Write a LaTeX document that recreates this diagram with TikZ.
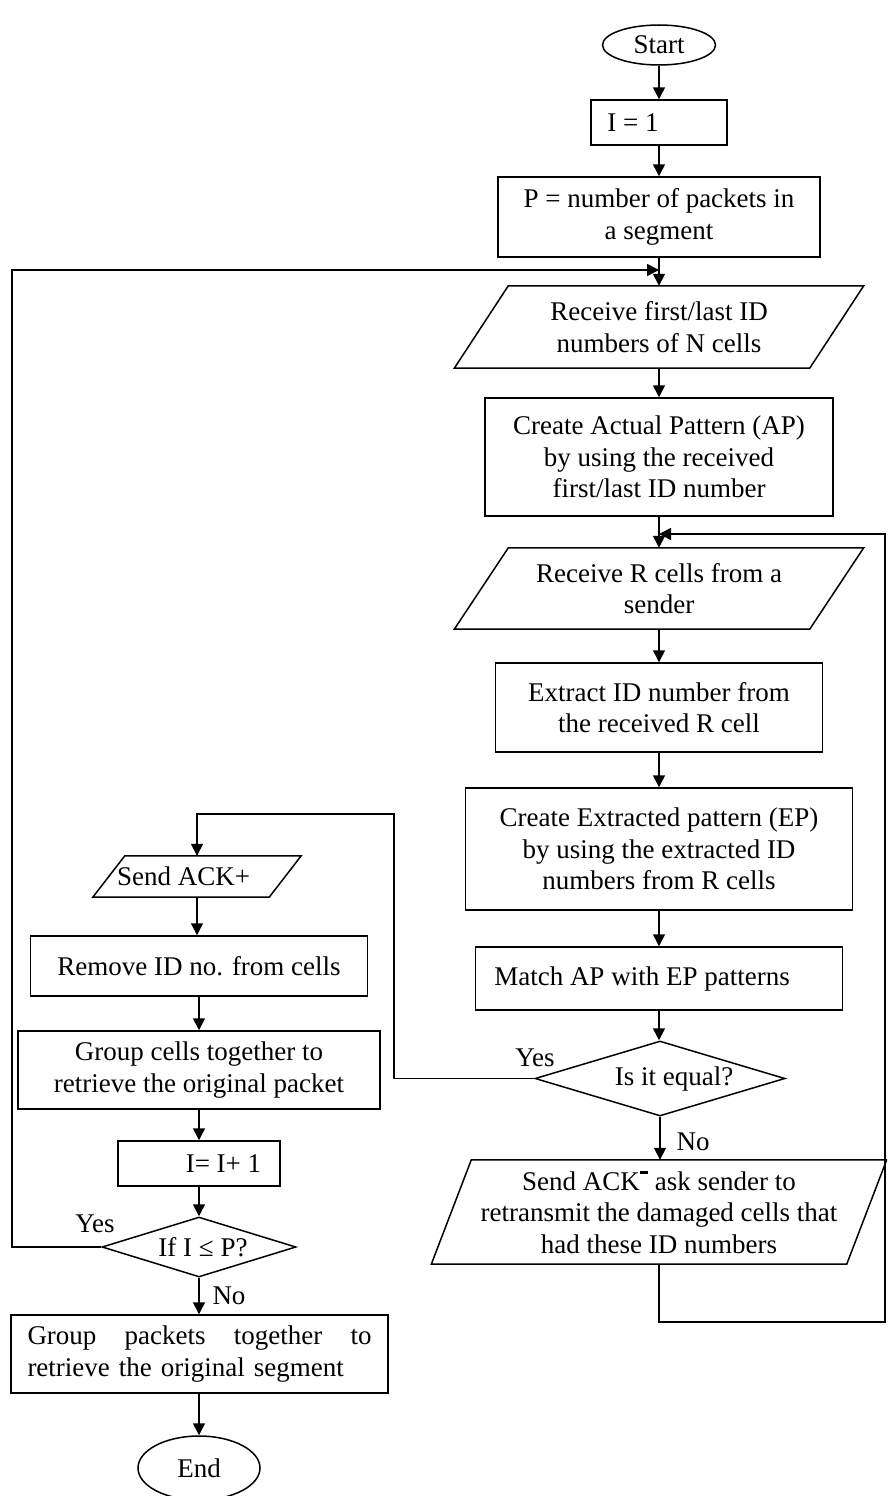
\documentclass[tikz,border=0pt]{standalone}
\usepackage{fontspec}
\setmainfont{Liberation Serif}
\usetikzlibrary{shapes.geometric,arrows.meta}
\newcommand{\drawpara}[2]{\draw[ln] ([xshift=#2]#1.north west) -- ([xshift=#2]#1.north east) -- ([xshift=-#2]#1.south east) -- ([xshift=-#2]#1.south west) -- cycle;}
\tikzset{
  txt/.style={font=\fontsize{27}{31.5}\selectfont, inner sep=0pt, align=center},
  proc/.style={txt, rectangle, draw, line width=1.5pt},
  term/.style={txt, ellipse, draw, line width=1.5pt},
  dec/.style={txt, diamond, draw, line width=1.5pt},
  io/.style={txt, rectangle},
  ln/.style={line width=1.5pt, line join=miter},
  arr/.style={ln, -{Triangle[length=12pt,width=12pt]}},
  lbl/.style={font=\fontsize{27}{31.5}\selectfont, inner sep=0pt}
}
\begin{document}
\begin{tikzpicture}[x=1pt,y=-1pt]
\useasboundingbox (0,0) rectangle (887,1496);
\clip (0,0) rectangle (887,1496);
% right column
\node[term, minimum width=113, minimum height=40] (start) at (659,45) {Start};
\node[proc, minimum width=136, minimum height=45] (i1) at (659,122.5) {I = 1\hspace*{52pt}};
\node[proc, minimum width=322, minimum height=80] (pbox) at (659,217) {P = number of packets in\\a segment};
\node[io, minimum width=355, minimum height=82] (para1) at (659,327) {Receive first/last ID\\numbers of N cells};
\drawpara{para1}{27pt}
\node[proc, minimum width=348, minimum height=118] (ap) at (659,457) {Create Actual Pattern (AP)\\by using the received\\first/last ID number};
\node[io, minimum width=355, minimum height=81] (para2) at (659,588.5) {Receive R cells from a\\sender};
\drawpara{para2}{27pt}
\node[proc, minimum width=327, minimum height=89] (ext) at (659,707.5) {Extract ID number from\\the received R cell};
\node[proc, minimum width=387, minimum height=122] (ep) at (659,849) {Create Extracted pattern (EP)\\by using the extracted ID\\numbers from R cells};
\node[proc, minimum width=367, minimum height=63] (match) at (659,978.5) {Match AP with EP patterns\hspace*{34pt}};
\node[dec, aspect=3.3, minimum width=250, minimum height=75] (eqd) at (660,1078.5) {\hspace*{28pt}Is it equal?};
\node[io, minimum width=415, minimum height=104] (ackm) at (659,1212) {Send ACK\raisebox{0.6em}{\rule{0.3em}{0.12em}} ask sender to\\retransmit the damaged cells that\\had these ID numbers};
\drawpara{ackm}{20pt}
% left column
\node[io, minimum width=176, minimum height=41] (ackp) at (197,876.5) {Send ACK+\hspace*{27pt}};
\drawpara{ackp}{16pt}
\node[proc, minimum width=337, minimum height=60] (remove) at (199,966) {Remove ID no. from cells};
\node[proc, minimum width=362, minimum height=78] (gcells) at (199,1070) {Group cells together to\\retrieve the original packet};
\node[proc, minimum width=162, minimum height=45] (inc) at (199,1163.5) {\hspace*{49pt}I= I+ 1};
\node[dec, aspect=3.2, minimum width=194, minimum height=60] (ifd) at (199,1247) {\hspace*{8pt}If I ≤ P?};
\node[proc, minimum width=377, minimum height=78, text width=344, align=left] (gseg) at (199.5,1354) {\hbox to 344pt{Group\hfil packets\hfil together\hfil to}\\retrieve the original segment};
\node[term, minimum width=122, minimum height=64] (end) at (199,1468) {End};
% labels
\node[lbl] (yes1) at (535,1058) {Yes};
\node[lbl] (no1) at (693,1142) {No};
\node[lbl] (yes2) at (95,1224) {Yes};
\node[lbl] (no2) at (229,1296) {No};
% helper coordinates
\coordinate (m1) at (659,270);
\coordinate (lc) at (12,270);
\coordinate (m2) at (659,534);
\coordinate (rb) at (885,1322);
\coordinate (yc) at (394,814);
% connectors right
\draw[arr] (start) -- (i1);
\draw[arr] (i1) -- (pbox);
\draw[arr] (pbox) -- (para1);
\draw[arr] (para1) -- (ap);
\draw[arr] (ap) -- (para2);
\draw[arr] (para2) -- (ext);
\draw[arr] (ext) -- (ep);
\draw[arr] (ep) -- (match);
\draw[arr] (match.south) -- (match.south |- eqd.north);
\draw[arr] (eqd.south) -- (eqd.south |- ackm.north);
\draw[arr] (ackm.south) |- (rb) |- (m2);
% yes branch
\draw[arr] (eqd.west) -| (yc) -| (ackp.north);
% connectors left
\draw[arr] (ackp.south) -- (ackp.south |- remove.north);
\draw[arr] (remove) -- (gcells);
\draw[arr] (gcells) -- (inc);
\draw[arr] (inc) -- (ifd);
\draw[arr] (ifd.south) -- (ifd.south |- gseg.north);
\draw[arr] (gseg.south) -- (gseg.south -| end.north) -- (end.north);
% back to top loop
\draw[arr] (ifd.west) -| (lc) -- (m1);
\end{tikzpicture}
\end{document}
